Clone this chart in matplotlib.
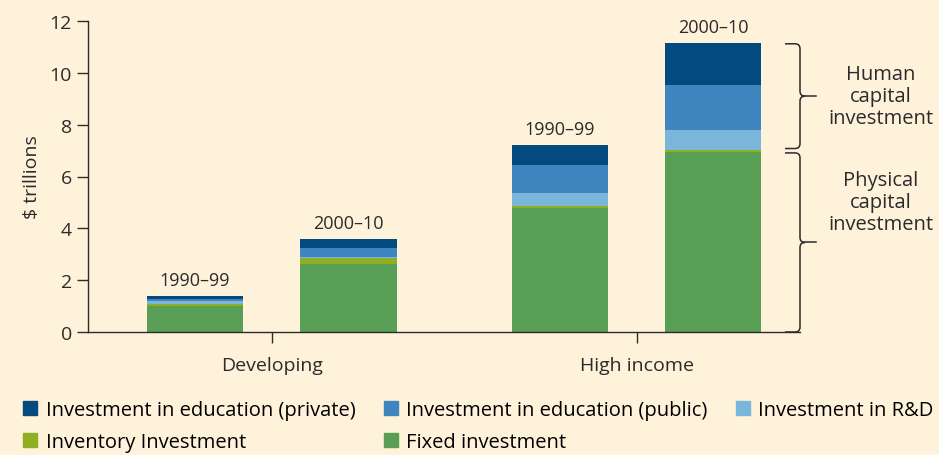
import numpy as np
import matplotlib.pyplot as plt
from matplotlib.path import Path
from matplotlib.patches import PathPatch, Patch

plt.rcParams['font.family'] = ['Open Sans', 'DejaVu Sans']

groups = ['Developing', 'High income']
periods = ['1990–99', '2000–10']
# values in $ trillions, order: developing 90s, developing 00s, high 90s, high 00s
fixed = [1.00, 2.63, 4.79, 6.95]
inventory = [0.08, 0.23, 0.07, 0.08]
rnd = [0.10, 0.02, 0.51, 0.77]
edu_public = [0.09, 0.35, 1.08, 1.74]
edu_private = [0.11, 0.35, 0.77, 1.62]

series = [
    ('Fixed investment', fixed, '#589f55'),
    ('Inventory Investment', inventory, '#8fae23'),
    ('Investment in R&D', rnd, '#7ab6db'),
    ('Investment in education (public)', edu_public, '#3f86c0'),
    ('Investment in education (private)', edu_private, '#034a7e'),
]

bg = '#fff2da'
ink = '#2b2b2b'

fig = plt.figure(figsize=(9.39, 4.56), dpi=100, facecolor=bg)
ax = fig.add_axes([88/939, 123/456, 712/939, 311/456], facecolor=bg)

group_x = np.arange(len(groups))
off = 0.21
width = 0.265
xs = np.array([g + s * off for g in group_x for s in (-1, 1)])

bottom = np.zeros(len(xs))
for name, vals, col in series:
    ax.bar(xs, vals, width, bottom=bottom, color=col, label=name, linewidth=0)
    bottom += np.array(vals)

for i, x in enumerate(xs):
    ax.annotate(periods[i % 2], (x, bottom[i]), xytext=(0, 5), textcoords='offset points',
                ha='center', va='bottom', fontsize=13, color=ink)

ax.set_xlim(-0.503, 1.448)
ax.set_ylim(0, 12)
ax.set_yticks(np.arange(0, 13, 2))
ax.set_xticks(group_x)
ax.set_xticklabels(groups)
ax.tick_params(axis='both', colors=ink, labelsize=14, length=8, width=1)
ax.tick_params(axis='x', pad=9)
ax.set_ylabel('$ trillions', fontsize=14, color=ink, labelpad=6)
for s in ['top', 'right']:
    ax.spines[s].set_visible(False)
for s in ['left', 'bottom']:
    ax.spines[s].set_color(ink)
    ax.spines[s].set_linewidth(1)

# curly braces on the right
xpx = 1 / 366.0
ypx = 12 / 311.0


def brace(y0, y1, xb):
    ym = (y0 + y1) / 2
    rx, ry = 5 * xpx, 5 * ypx
    verts = [
        (xb - 15 * xpx, y1), (xb - rx, y1), (xb, y1), (xb, y1 - ry),
        (xb, ym + ry), (xb, ym), (xb + rx, ym),
        (xb, ym), (xb, ym - ry),
        (xb, y0 + ry), (xb, y0), (xb - rx, y0), (xb - 15 * xpx, y0),
    ]
    codes = [Path.MOVETO, Path.LINETO, Path.CURVE3, Path.CURVE3,
             Path.LINETO, Path.CURVE3, Path.CURVE3,
             Path.CURVE3, Path.CURVE3,
             Path.LINETO, Path.CURVE3, Path.CURVE3, Path.LINETO]
    ax.add_patch(PathPatch(Path(verts, codes), fill=False, edgecolor=ink, lw=1.1, clip_on=False))
    ax.plot([xb + rx, xb + 16 * xpx], [ym, ym], color=ink, lw=1.1, clip_on=False)
    return ym


phys_top = fixed[3] + inventory[3]
xb = 1.448
ym_h = brace(phys_top + 0.05, bottom[3] - 0.04, xb)
ym_p = brace(0, phys_top - 0.12, xb)
ax.text(1.669, ym_h, 'Human\ncapital\ninvestment', ha='center', va='center',
        fontsize=14.5, color=ink, linespacing=1.15, clip_on=False)
ax.text(1.669, 5.02, 'Physical\ncapital\ninvestment', ha='center', va='center',
        fontsize=14.5, color=ink, linespacing=1.15, clip_on=False)

# legend, laid out in rows as in the original
order = [4, 1, 3, 0, 2]
handles = [Patch(color=series[i][2], label=series[i][0]) for i in order]
fig.legend(handles=handles, loc='lower left', bbox_to_anchor=(0.012, -0.02), ncol=3,
           frameon=False, handlelength=0.7, handleheight=0.7,
           handletextpad=0.4, columnspacing=1.42, labelspacing=0.6, borderaxespad=0.2,
           prop={'family': ['Open Sans', 'DejaVu Sans'], 'size': 14.5})

fig.savefig('out.png', dpi=100, facecolor=bg)
